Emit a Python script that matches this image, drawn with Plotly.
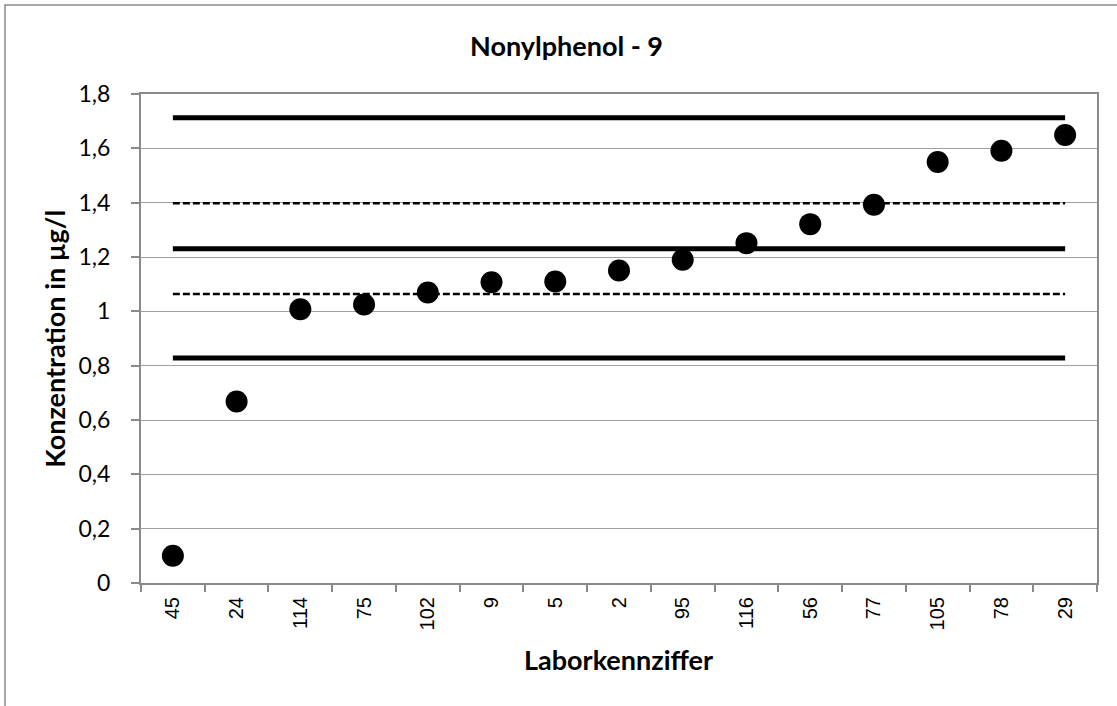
import plotly.graph_objects as go

labs = ["45", "24", "114", "75", "102", "9", "5", "2", "95", "116", "56", "77", "105", "78", "29"]
values = [0.10, 0.668, 1.008, 1.025, 1.069, 1.107, 1.110, 1.150, 1.190, 1.251, 1.321, 1.392, 1.550, 1.591, 1.649]
solid_levels = [1.713, 1.230, 0.828]
dashed_levels = [1.398, 1.064]
y_ticks = [0, 0.2, 0.4, 0.6, 0.8, 1.0, 1.2, 1.4, 1.6, 1.8]

W, H = 1117, 706
L, R, T, B = 141, 1097, 94, 583.3

fig = go.Figure()
for lv in solid_levels:
    fig.add_trace(go.Scatter(x=labs, y=[lv] * len(labs), mode="lines",
                             line=dict(color="black", width=5), hoverinfo="skip"))
for lv in dashed_levels:
    fig.add_trace(go.Scatter(x=labs, y=[lv] * len(labs), mode="lines",
                             line=dict(color="black", width=2.6, dash="7px,3px"), hoverinfo="skip"))
fig.add_trace(go.Scatter(x=labs, y=values, mode="markers",
                         marker=dict(color="black", size=22)))

pw = R - L
ph = B - T
def px(x):
    return (x - L) / pw
def py(y):
    return (B - y) / ph

FONT = "Lato, Carlito, Calibri"

fig.update_layout(
    width=W, height=H,
    margin=dict(l=L, r=W - R, t=T, b=H - B, pad=0),
    paper_bgcolor="white", plot_bgcolor="white",
    showlegend=False,
    separators=", ",
    xaxis=dict(type="category", categoryorder="array", categoryarray=labs,
               tickson="boundaries", ticks="outside", ticklen=7, tickcolor="#8a8a8a", tickwidth=1.5,
               tickangle=-90, tickfont=dict(family="Liberation Sans, Arial", size=20, color="black"),
               showline=True, linecolor="#8a8a8a", linewidth=2, mirror=True,
               showgrid=False, zeroline=False, range=[-0.5, len(labs) - 0.5],
               ticklabelstandoff=4),
    yaxis=dict(range=[0, 1.8], tickvals=y_ticks, ticks="outside", ticklen=8,
               tickcolor="#8a8a8a", tickwidth=1.5,
               tickfont=dict(family=FONT, size=23, color="black"),
               showline=True, linecolor="#8a8a8a", linewidth=2, mirror=True,
               showgrid=True, gridcolor="#a0a0a0", gridwidth=1.3, zeroline=False,
               ticklabelstandoff=16),
    annotations=[
        dict(text="<b>Nonylphenol - 9</b>", x=px(566), y=py(45), xref="paper", yref="paper",
             showarrow=False, font=dict(family=FONT, size=27, color="black"),
             xanchor="center", yanchor="middle"),
        dict(text="<b>Konzentration in µg/l</b>", x=px(55), y=py(339), xref="paper", yref="paper",
             showarrow=False, textangle=-90,
             font=dict(family=FONT, size=27, color="black"),
             xanchor="center", yanchor="middle"),
        dict(text="<b>Laborkennziffer</b>", x=px(618), y=py(660), xref="paper", yref="paper",
             showarrow=False, font=dict(family=FONT, size=27, color="black"),
             xanchor="center", yanchor="middle"),
    ],
    shapes=[
        dict(type="rect", xref="paper", yref="paper",
             x0=px(5), x1=px(1130), y0=py(5), y1=py(720),
             line=dict(color="#8a8a8a", width=1.5), fillcolor="rgba(0,0,0,0)", layer="below"),
    ],
)

fig.write_html("out.html", config={"displayModeBar": False},
               post_script="document.body.style.margin='0';document.body.style.overflow='hidden';")
